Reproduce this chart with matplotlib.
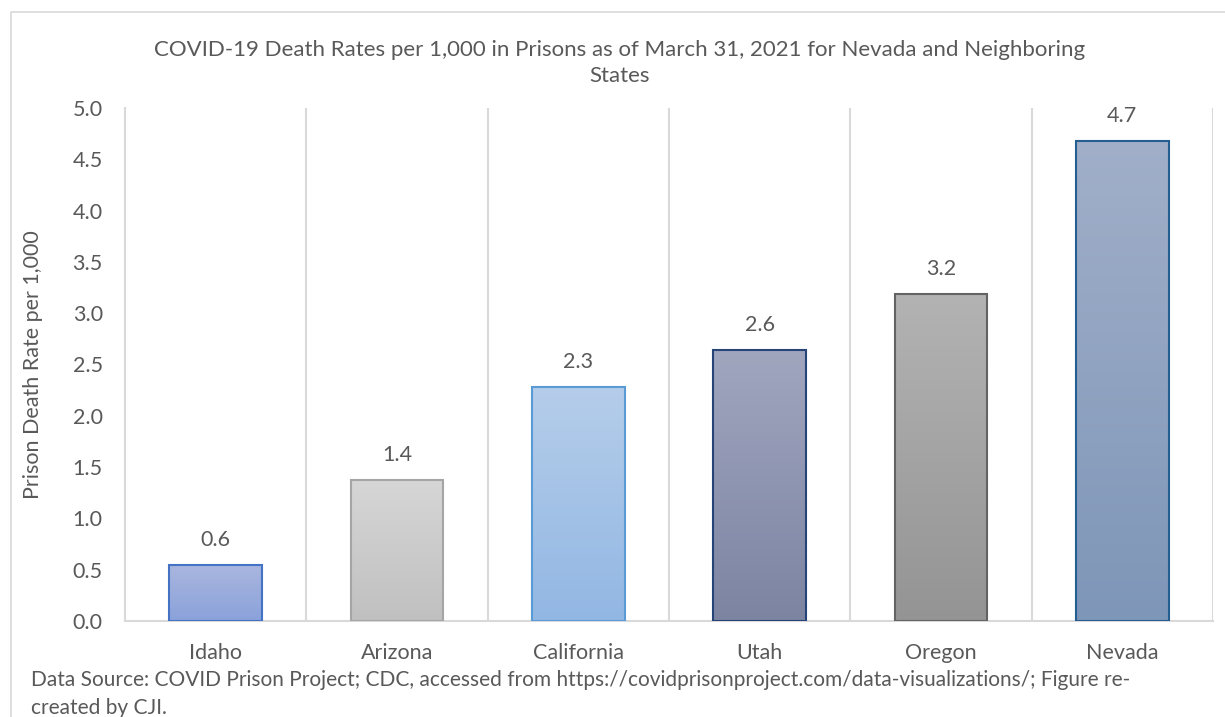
import numpy as np
import matplotlib.pyplot as plt
from matplotlib.colors import LinearSegmentedColormap
from matplotlib.lines import Line2D

# ---------- Données ----------
etats = ["Idaho", "Arizona", "California", "Utah", "Oregon", "Nevada"]
taux = [0.55, 1.37, 2.28, 2.64, 3.19, 4.68]
etiquettes = ["0.6", "1.4", "2.3", "2.6", "3.2", "4.7"]

# couleurs : (haut du dégradé, bas du dégradé, bordure)
couleurs = [
    ("#aab6df", "#8aa2da", "#4472c4"),
    ("#d6d6d6", "#c0c0c0", "#a5a5a5"),
    ("#b5cdea", "#92b7e3", "#5b9bd5"),
    ("#a1a6bf", "#7c84a2", "#264478"),
    ("#b3b3b3", "#949494", "#636363"),
    ("#a1afc9", "#7e96b8", "#255e91"),
]

titre = ("COVID-19 Death Rates per 1,000 in Prisons as of March 31, 2021 for Nevada and Neighboring\n"
         "States")
source = ("Data Source: COVID Prison Project; CDC, accessed from https://covidprisonproject.com/data-visualizations/; Figure re-\n"
          "created by CJI.")

plt.rcParams["font.family"] = ["Lato", "DejaVu Sans"]
gris_texte = "#595959"
gris_ligne = "#d9d9d9"
taille = 15.5

W, H = 1225, 717
fig = plt.figure(figsize=(W / 100, H / 100), dpi=100)
ax = fig.add_axes([125 / W, 1 - 621 / H, (1213 - 125) / W, (621 - 108) / H])

x = np.arange(len(etats))
barres = ax.bar(x, taux, width=0.51, zorder=2)

# dégradé vertical dans chaque barre
for b, (haut, bas, bord) in zip(barres, couleurs):
    b.set_facecolor("none")
    b.set_edgecolor(bord)
    b.set_linewidth(1.5)
    b.set_zorder(4)
    x0, y0 = b.get_x(), b.get_y()
    w, h = b.get_width(), b.get_height()
    cmap = LinearSegmentedColormap.from_list("g", [bas, haut])
    grad = np.linspace(0, 1, 256).reshape(-1, 1)
    im = ax.imshow(grad, cmap=cmap, origin="lower", aspect="auto",
                   extent=(x0, x0 + w, y0, y0 + h), zorder=3)
    im.set_clip_path(b)

for xi, v, lab in zip(x, taux, etiquettes):
    ax.annotate(lab, (xi, v), xytext=(0, 25), textcoords="offset pixels",
                ha="center", va="center", fontsize=taille, color=gris_texte)

ax.set_xlim(-0.5, len(etats) - 0.5)
ax.set_ylim(0, 5)
ax.set_yticks(np.arange(0, 5.01, 0.5))
ax.set_yticklabels([f"{t:.1f}" for t in np.arange(0, 5.01, 0.5)])
ax.set_xticks(x)
ax.set_xticklabels(etats)

# lignes verticales entre catégories
for xb in np.arange(0.5, len(etats), 1.0):
    ax.axvline(xb, color=gris_ligne, lw=1.5, zorder=1)

for s in ["top", "right"]:
    ax.spines[s].set_visible(False)
for s in ["left", "bottom"]:
    ax.spines[s].set_color(gris_ligne)
    ax.spines[s].set_linewidth(1.5)
ax.tick_params(axis="both", length=0, labelsize=taille, colors=gris_texte)
ax.tick_params(axis="y", pad=16)
ax.tick_params(axis="x", pad=16)

ax.set_ylabel("Prison Death Rate per 1,000", fontsize=taille, color=gris_texte)
ax.yaxis.set_label_coords(-0.075, 0.5)

fig.text(620 / W, 1 - 63 / H, titre, ha="center", va="center", fontsize=16,
         color=gris_texte, linespacing=1.35)
fig.text(31 / W, 1 - 694 / H, source, ha="left", va="center", fontsize=15,
         color=gris_texte, linespacing=1.45)

# cadre du graphique (bord gauche et bord haut)
fig.lines.append(Line2D([11 / W, 11 / W, 1.0], [0.0, 1 - 12 / H, 1 - 12 / H],
                        transform=fig.transFigure, color=gris_ligne, lw=1.2))

fig.savefig("out.png", dpi=100)
